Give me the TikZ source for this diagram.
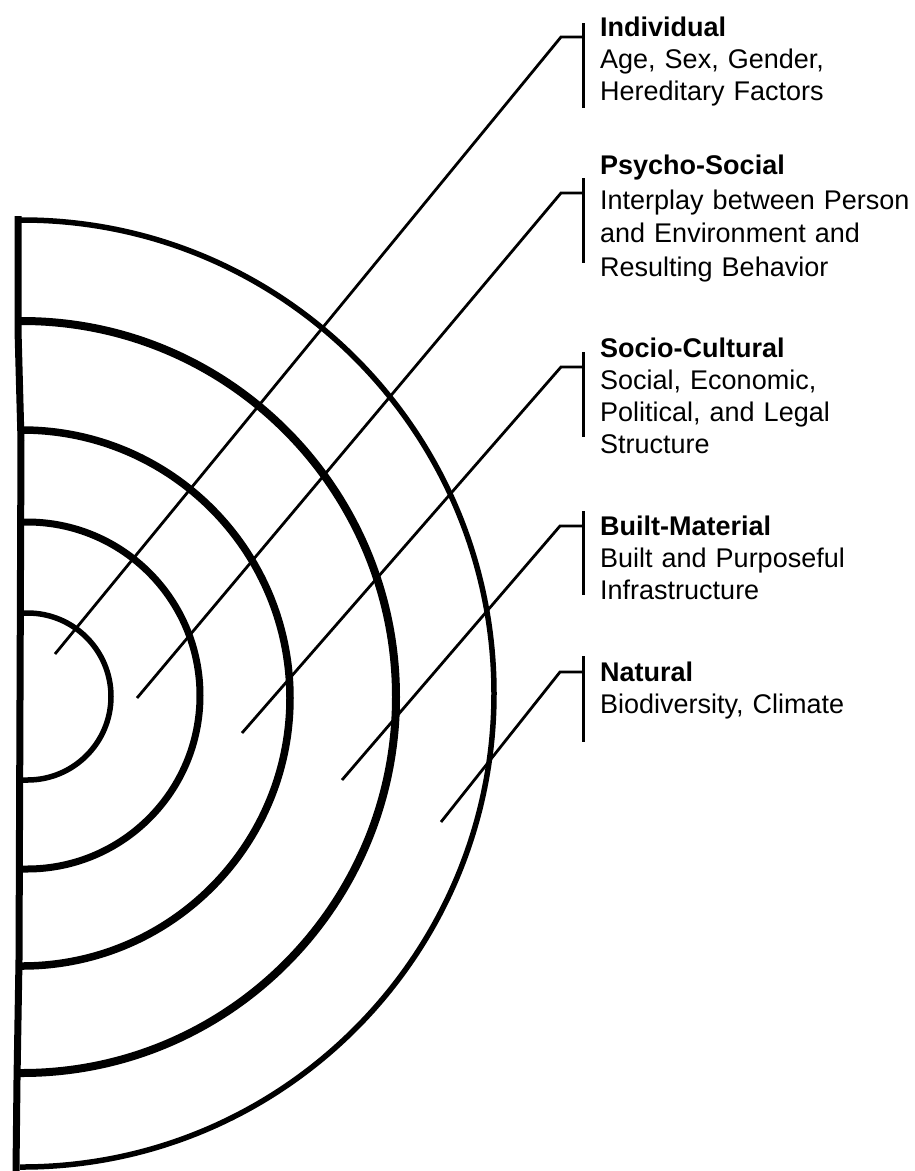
\documentclass[tikz,border=0pt]{standalone}
\usepackage{fontspec}
\setmainfont{Liberation Sans}
\begin{document}
\begin{tikzpicture}[x=1pt,y=-1pt,
  spine/.style={line width=7pt, line join=round},
  leader/.style={line width=2.8pt},
  bar/.style={line width=3pt},
  lbl/.style={anchor=base west, inner sep=0pt, text width=320pt, align=left,
    font=\fontsize{27}{32}\selectfont}]
\useasboundingbox (0,0) rectangle (914,1171);

% nested half rings, innermost first
\draw[line width=5.5pt] (20,780) -- (27.5,780) arc[start angle=90,end angle=-90,x radius=83.5,y radius=83.5] -- (20,613);
\draw[line width=7pt]   (20,869) -- (27,869) arc[start angle=90,end angle=-90,x radius=173,y radius=173.5] -- (20,522);
\draw[line width=7.5pt] (20,966) -- (22,966) arc[start angle=90,end angle=-90,x radius=268,y radius=268] -- (20,430);
\draw[line width=8pt]   (20,1073) -- (22,1073) arc[start angle=90,end angle=-90,x radius=374,y radius=376] -- (20,321);
\draw[line width=5.5pt] (20,1167) -- (22,1167) arc[start angle=90,end angle=-90,x radius=472,y radius=473.5] -- (20,220);

% left edge
\draw[spine] (18,216) -- (18,330) -- (21,440) -- (20,700) -- (19,960) -- (17,1080) -- (16,1171);

% labels
\node[lbl] (ind) at (600,36) {\textbf{Individual}\\Age, Sex, Gender,\\Hereditary Factors};
\node[lbl, font=\fontsize{27}{33.5}\selectfont] (psy) at (600,174) {\textbf{Psycho-Social}\\[1.5pt]Interplay between Person\\and Environment and\\Resulting Behavior};
\node[lbl] (soc) at (600,357) {\textbf{Socio-Cultural}\\Social, Economic,\\Political, and Legal\\Structure};
\node[lbl] (blt) at (600,535) {\textbf{Built-Material}\\Built and Purposeful\\Infrastructure};
\node[lbl] (nat) at (600,681) {\textbf{Natural}\\Biodiversity, Climate};

% leader geometry
\coordinate (ind-tip) at (55,654);   \coordinate (ind-elbow) at (561,37);
\coordinate (ind-top) at (583,23);   \coordinate (ind-bot) at (583,108);
\coordinate (psy-tip) at (137,698);  \coordinate (psy-elbow) at (561,193);
\coordinate (psy-top) at (583,178);  \coordinate (psy-bot) at (583,263);
\coordinate (soc-tip) at (242,733);  \coordinate (soc-elbow) at (561,367);
\coordinate (soc-top) at (583,352);  \coordinate (soc-bot) at (583,437);
\coordinate (blt-tip) at (342,780);  \coordinate (blt-elbow) at (560,526);
\coordinate (blt-top) at (583,511);  \coordinate (blt-bot) at (583,595);
\coordinate (nat-tip) at (441,822);  \coordinate (nat-elbow) at (560,672);
\coordinate (nat-top) at (583,656);  \coordinate (nat-bot) at (583,742);

\foreach \k in {ind,psy,soc,blt,nat}{
  \draw[bar] (\k-top) -- (\k-bot);
  \draw[leader] (\k-tip) -- (\k-elbow) -- (\k-top |- \k-elbow);
}
\end{tikzpicture}
\end{document}
